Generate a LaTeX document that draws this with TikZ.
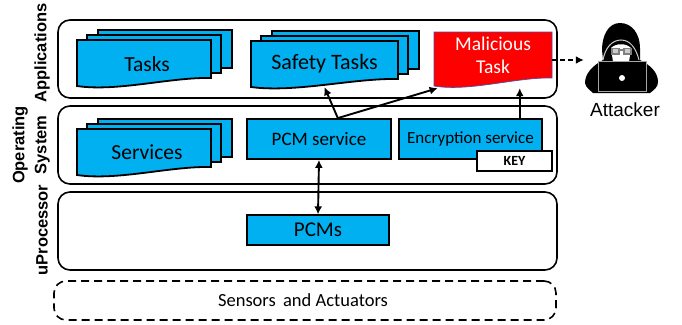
\documentclass[tikz,border=0pt]{standalone}
\usepackage{fontspec}
\setmainfont{Carlito}
\newfontfamily\labelfont{Liberation Sans}
\usetikzlibrary{arrows.meta}

\begin{document}
\begin{tikzpicture}[x=1pt,y=-1pt]
\useasboundingbox (0,0) rectangle (682,324);
\definecolor{pcmblue}{HTML}{00B0F0}
\tikzset{LayerStyle/.style = {draw = black, line width = 1.6pt, rounded corners = 12pt}}
\tikzset{DocStyle/.style = {draw = black, line width = 1.8pt, fill = pcmblue}}
\tikzset{BoxStyle/.style = {shape = rectangle, draw = black, line width = 1.8pt, fill = pcmblue, inner sep = 0pt}}
\tikzset{TextStyle/.style = {shape = rectangle, inner sep = 0pt, text = black}}
\tikzset{SideStyle/.style = {shape = rectangle, inner sep = 0pt, rotate = 90, align = center, font = \labelfont\bfseries\fontsize{16.5}{22}\selectfont}}
\tikzset{LinkStyle/.style = {line width = 1.9pt, -{Latex[length=8pt,width=8pt]}}}
\def \DocPath #1#2#3#4{(#1,#2) -- (#3,#2) -- (#3,#4) .. controls ({0.7*(#3)+0.3*(#1)},#4-1) and ({0.3*(#3)+0.7*(#1)},#4+14) .. (#1,#4+8) -- cycle}
\def \DocStack #1#2#3#4{
   \foreach \dx/\dy in {21/-10,10/-5,0/0}
      \draw[DocStyle] \DocPath{#1+\dx}{#2+\dy}{#3+\dx}{#4+\dy};
}

% layers
\draw[LayerStyle] (58,20) rectangle (557,98);
\draw[LayerStyle] (58,106) rectangle (557,184);
\draw[LayerStyle] (58,192) rectangle (557,270);
\node[LayerStyle, dash pattern = on 8pt off 5pt, shape = rectangle, minimum width = 502pt, minimum height = 39pt, font = \fontsize{18.5}{20}\selectfont] (sensors) at (305,300.5) {\hspace{-4pt}Sensors\, and Actuators};

\node[SideStyle] (applications) at (42,53) {Applications};
\node[SideStyle] (os) at (31,145) {Operating\\System};
\node[SideStyle] (uprocessor) at (42,230) {uProcessor};

% stacks
\DocStack{77}{40}{211}{78}
\node[TextStyle, minimum width = 134pt, minimum height = 46pt, font = \fontsize{21.5}{24}\selectfont] (tasks) at (147,64) {Tasks};
\DocStack{251}{41}{398}{79}
\node[TextStyle, minimum width = 147pt, minimum height = 46pt, font = \fontsize{22}{24}\selectfont] (safety) at (324.5,64) {Safety Tasks};
\DocStack{77}{129}{211}{167}
\node[TextStyle, minimum width = 134pt, minimum height = 46pt, font = \fontsize{21.5}{24}\selectfont] (services) at (147,152) {Services};

% malicious task
\draw[draw = blue!50!black!70, line width = 0.7pt, fill = red] \DocPath{434}{32}{552}{78};
\node[TextStyle, minimum width = 118pt, minimum height = 56pt] (malicious) at (493,60) {};
\node[TextStyle, align = center, text = white, font = \fontsize{19.5}{23}\selectfont] (malicioustext) at (493,55) {Malicious\\Task};

% services
\node[BoxStyle, minimum width = 144pt, minimum height = 40pt, font = \fontsize{19}{22}\selectfont] (pcmservice) at (319,139) {PCM service};
\node[BoxStyle, minimum width = 143pt, minimum height = 40pt, font = \fontsize{17}{20}\selectfont] (encryption) at (470.5,139) {Encryption service};
\node[BoxStyle, fill = white, minimum width = 75pt, minimum height = 20pt, font = \fontsize{14}{15}\selectfont\bfseries] (key) at (514.5,161) {KEY};
\node[BoxStyle, line width = 1.3pt, minimum width = 142pt, minimum height = 30pt, font = \fontsize{21}{24}\selectfont] (pcms) at (318,230) {PCMs};

% attacker
\fill[black] (620,23) .. controls (608,23) and (602,36) .. (602,50) -- (603,60) .. controls (592,66) and (585,74) .. (585,83) .. controls (586,88) and (590,90) .. (593,93) -- (650,93) .. controls (654,90) and (658,87) .. (658,82) .. controls (658,72) and (650,65) .. (640,60) -- (640,48) .. controls (640,34) and (632,23) .. (620,23) -- cycle;
\draw[gray!40, line width = 1pt] (603,60) .. controls (605,48) and (612,40) .. (621,40) .. controls (630,40) and (636,48) .. (639,60);
\fill[white] (611,48) .. controls (616,43) and (626,43) .. (631,48) -- (629,62) -- (613,62) -- cycle;
\draw[gray, line width = 1.2pt, fill = gray!40] (612,48.5) rectangle (619,54) (624,48.5) rectangle (631,54) (619,50) -- (624,50);
\node[shape = rectangle, draw = gray!70, fill = black, line width = 1pt, minimum width = 48pt, minimum height = 30pt, inner sep = 0pt] (laptop) at (622,76.5) {};
\fill[white] (laptop.center) ++(0,1.5) circle (3pt);
\node[TextStyle, minimum width = 74pt, minimum height = 70pt] (attackericon) at (621,60) {};
\node[TextStyle, font = \labelfont\fontsize{19}{22}\selectfont] (attacker) at (625,110) {Attacker};

% links
\draw[LinkStyle] (pcmservice.48) -- (safety.south);
\draw[LinkStyle] (pcmservice.48) -- (malicious.207);
\draw[LinkStyle] (encryption.23.3) -- (encryption.23.3 |- malicious.south);
\draw[LinkStyle, {Latex[length=8pt,width=8pt]}-{Latex[length=8pt,width=8pt]}] (pcmservice.south) -- (pcms.north);
\draw[LinkStyle, dash pattern = on 5pt off 3pt] (malicious.east) -- (attackericon.west);
\end{tikzpicture}
\end{document}
